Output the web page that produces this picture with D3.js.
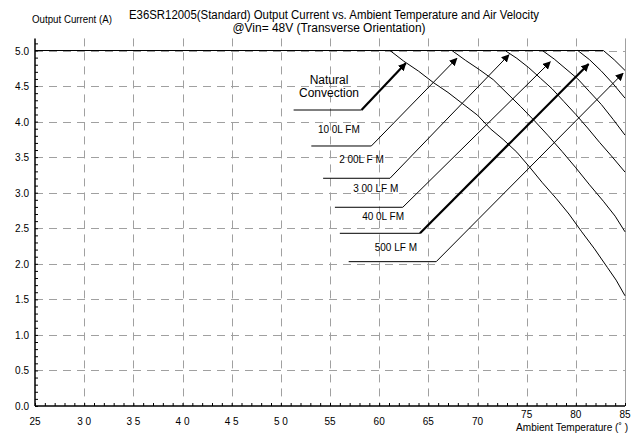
<!DOCTYPE html>
<html><head><meta charset="utf-8">
<script src="https://cdn.jsdelivr.net/npm/d3@7"></script>
<style>
html,body{margin:0;padding:0;background:#fff;}
svg{display:block;font-family:"Liberation Sans",Arial,sans-serif;}
</style></head>
<body>
<svg id="chart" width="641" height="435"></svg>
<script>
// ---- Data ----
const titleLines = ["E36SR12005(Standard)  Output Current vs. Ambient Temperature and Air Velocity",
                    "@Vin= 48V (Transverse Orientation)"];
const yAxisTitle = "Output  Current  (A)";
const xAxisTitle = "Ambient Temperature (˚ )";
const xTicks = [25,30,35,40,45,50,55,60,65,70,75,80,85];
const xTickLabels = ["25","3 0","3 5","4 0","4 5","5 0","55","60","65","70","75","80","85"];
const yTicks = [0,0.5,1,1.5,2,2.5,3,3.5,4,4.5,5];
const yTickLabels = ["0.0","0.5","1.0","1.5","2.0","2.5","3.0","3.5","4.0","4.5","5.0"];

const seriesNames = ["Natural Convection","100 LFM","200 LFM","300 LFM","400 LFM","500 LFM"];
const natConv = [[25,5.0],[61.1,5.0],[62.5,4.85],[64.0,4.71],[65.5,4.55],[67.0,4.41],[68.5,4.25],[70.0,4.09],[71.3,3.90],[72.6,3.75],[74.0,3.57],[75.3,3.36],[76.6,3.14],[78.0,2.92],[79.3,2.70],[80.6,2.45],[81.9,2.21],[83.2,1.95],[84.1,1.77],[85,1.55]];
const lfm100 = [[25,5.0],[67.4,5.0],[68.8,4.86],[70.2,4.73],[71.6,4.59],[73.0,4.40],[74.4,4.21],[75.8,4.01],[77.2,3.80],[78.6,3.58],[80.0,3.35],[81.4,3.11],[82.8,2.88],[84.0,2.67],[85,2.45]];
const lfm200 = [[25,5.0],[72.8,5.0],[74.0,4.89],[75.2,4.76],[76.4,4.61],[77.6,4.46],[78.8,4.28],[80.0,4.10],[81.2,3.91],[82.4,3.71],[83.6,3.52],[85,3.29]];
const lfm300 = [[25,5.0],[76.6,5.0],[77.8,4.88],[79.0,4.74],[80.2,4.60],[81.4,4.42],[82.6,4.24],[83.8,4.03],[85,3.81]];
const lfm400 = [[25,5.0],[80.2,5.0],[81.4,4.87],[82.6,4.71],[83.8,4.53],[85,4.33]];
const lfm500 = [[25,5.0],[82.8,5.0],[83.9,4.87],[85,4.72]];
const allSeries = [natConv,lfm100,lfm200,lfm300,lfm400,lfm500];

// annotation callouts (data coords): horizontal start, elbow, arrow tip
const calloutStart = [[51.3,4.163],[53.1,3.657],[54.3,3.203],[55.5,2.795],[56.0,2.429],[56.9,2.03]];
const calloutElbow = [[58.2,4.163],[59.2,3.657],[61.1,3.203],[62.4,2.795],[64.15,2.429],[65.8,2.03]];
const calloutTip   = [[62.7,4.82],[67.9,4.89],[73.2,4.94],[77.4,4.84],[81.3,4.81],[84.8,4.68]];
const calloutThick = [true,false,false,false,true,false];
const labelText = [["Natural","Convection"],["10 0L FM"],["2 00L F M"],["3 00 LF M"],["40 0L FM"],["500 LF M"]];
const labelPos  = [[54.9,4.49],[55.9,3.90],[58.2,3.47],[59.65,3.06],[60.4,2.67],[61.7,2.24]];

// ---- Chart ----
const svg = d3.select("#chart");
const x = d3.scaleLinear().domain([25,85]).range([35,625]);
const y = d3.scaleLinear().domain([0,5]).range([406,50.5]);
const yTop = 5.17;

// grid
const grid = svg.append("g").attr("stroke","#a0a0a0").attr("stroke-width",1).attr("stroke-dasharray","8,6");
grid.selectAll("line.h").data(yTicks.filter(d=>d>0)).enter().append("line")
  .attr("x1",x(25)).attr("x2",x(85)).attr("y1",d=>Math.round(y(d))+0.5).attr("y2",d=>Math.round(y(d))+0.5);
grid.selectAll("line.v").data(xTicks.filter(d=>d>25 && d<85)).enter().append("line")
  .attr("x1",d=>Math.round(x(d))+0.5).attr("x2",d=>Math.round(x(d))+0.5).attr("y1",y(yTop)).attr("y2",y(0));
// right border
svg.append("line").attr("x1",x(85)+0.5).attr("x2",x(85)+0.5).attr("y1",y(yTop)).attr("y2",y(0))
  .attr("stroke","#a0a0a0").attr("stroke-width",1);

// axes
const yAxis = d3.axisRight(y).tickValues(d3.range(0,5.11,0.1)).tickSize(3).tickFormat("");
const gy = svg.append("g").attr("transform",`translate(${x(25)},0)`).call(yAxis);
gy.select(".domain").remove();
gy.selectAll(".tick line").attr("stroke","#000");
svg.append("line").attr("x1",x(25)).attr("x2",x(25)).attr("y1",y(yTop)).attr("y2",y(0)).attr("stroke","#000").attr("stroke-width",1.5);
const xAxis = d3.axisTop(x).tickValues(d3.range(25,85.1,1)).tickSize(3).tickFormat("");
const gx = svg.append("g").attr("transform",`translate(0,${y(0)})`).call(xAxis);
gx.select(".domain").remove();
gx.selectAll(".tick line").attr("stroke","#000");
svg.append("line").attr("x1",x(25)).attr("x2",x(85)).attr("y1",y(0)).attr("y2",y(0)).attr("stroke","#000").attr("stroke-width",1.5);

// tick labels
svg.append("g").selectAll("text").data(yTicks).enter().append("text")
  .attr("x",29).attr("y",d=>y(d)+4).attr("text-anchor","end").attr("font-size",10).attr("fill","#000")
  .text((d,i)=>yTickLabels[i]);
svg.append("g").selectAll("text").data(xTicks).enter().append("text")
  .attr("x",d=>x(d)).attr("y",d=>d>=75?418:425).attr("text-anchor","middle").attr("font-size",10).attr("fill","#000")
  .text((d,i)=>xTickLabels[i]);

// titles
svg.append("text").attr("x",334).attr("y",19).attr("text-anchor","middle").attr("font-size",12)
  .attr("textLength",410).attr("lengthAdjust","spacingAndGlyphs").text(titleLines[0]);
svg.append("text").attr("x",329).attr("y",32).attr("text-anchor","middle").attr("font-size",12)
  .attr("textLength",193).attr("lengthAdjust","spacingAndGlyphs").text(titleLines[1]);
svg.append("text").attr("x",32).attr("y",23).attr("font-size",10)
  .attr("textLength",80).attr("lengthAdjust","spacingAndGlyphs").text(yAxisTitle);
svg.append("text").attr("x",628).attr("y",431).attr("text-anchor","end").attr("font-size",10)
  .attr("textLength",112).attr("lengthAdjust","spacingAndGlyphs").text(xAxisTitle);

// curves
const line = d3.line().x(d=>x(d[0])).y(d=>y(d[1]));
svg.append("g").selectAll("path").data(allSeries).enter().append("path")
  .attr("d",line).attr("fill","none").attr("stroke","#000").attr("stroke-width",1)
  .attr("stroke-linejoin","round");

// arrow marker
svg.append("defs").append("marker").attr("id","ah").attr("viewBox","0 0 10 10")
  .attr("refX",9).attr("refY",5).attr("markerWidth",8).attr("markerHeight",8)
  .attr("markerUnits","userSpaceOnUse").attr("orient","auto")
  .append("path").attr("d","M0,0 L10,5 L0,10 Z").attr("fill","#000");

// callouts
const cg = svg.append("g");
seriesNames.forEach((n,i)=>{
  cg.append("line").attr("x1",x(calloutStart[i][0])).attr("y1",y(calloutStart[i][1]))
    .attr("x2",x(calloutElbow[i][0])).attr("y2",y(calloutElbow[i][1])).attr("stroke","#000").attr("stroke-width",1);
  cg.append("line").attr("x1",x(calloutElbow[i][0])).attr("y1",y(calloutElbow[i][1]))
    .attr("x2",x(calloutTip[i][0])).attr("y2",y(calloutTip[i][1])).attr("stroke","#000")
    .attr("stroke-width",calloutThick[i]?2.2:1).attr("marker-end","url(#ah)");
  const lines = labelText[i];
  lines.forEach((t,j)=>{
    cg.append("text").attr("x",x(labelPos[i][0]))
      .attr("y",y(labelPos[i][1]) + (lines.length>1 ? (j-0.5)*13 : 0) + 4)
      .attr("text-anchor","middle").attr("font-size",lines.length>1?12:10).text(t);
  });
});
</script>
</body></html>
